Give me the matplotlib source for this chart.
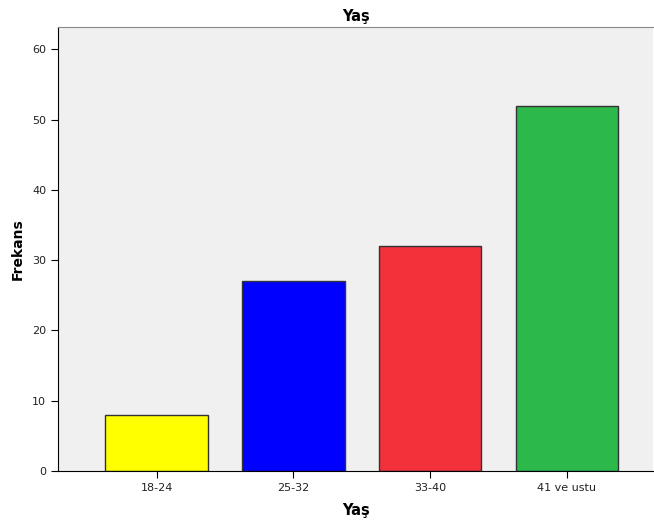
import matplotlib.pyplot as plt

# age groups and their counts
categories = ["18-24", "25-32", "33-40", "41 ve ustu"]
counts = [8, 27, 32, 52]
colors = ["#ffff00", "#0000ff", "#f2313b", "#2db84b"]

fig = plt.figure(figsize=(6.54, 5.23), dpi=100)
ax = fig.add_axes([0.0887, 0.0994, 0.9100, 0.8490])
ax.set_facecolor("#f0f0f0")

x = range(len(categories))
ax.bar(x, counts, width=0.75, color=colors, edgecolor="#333333", linewidth=1)

ax.set_xticks(list(x))
ax.set_xticklabels(categories, fontsize=8, color="#222222")
ax.set_xlim(-0.72, 3.63)
ax.set_ylim(0, 63.2)
ax.set_yticks([0, 10, 20, 30, 40, 50, 60])
ax.set_yticklabels([0, 10, 20, 30, 40, 50, 60], fontsize=8, color="#222222")
ax.tick_params(axis="y", length=5, direction="out")
ax.tick_params(axis="x", length=5, direction="out")

ax.spines["top"].set_color("#888888")
ax.spines["right"].set_visible(False)
ax.spines["left"].set_color("black")
ax.spines["bottom"].set_color("black")

ax.set_title("Yaş", fontsize=10.5, fontweight="bold", pad=4)
ax.set_xlabel("Yaş", fontsize=10.5, fontweight="bold", labelpad=7)
ax.set_ylabel("Frekans", fontsize=10, fontweight="bold", labelpad=5)

fig.savefig("out.png", dpi=100)
